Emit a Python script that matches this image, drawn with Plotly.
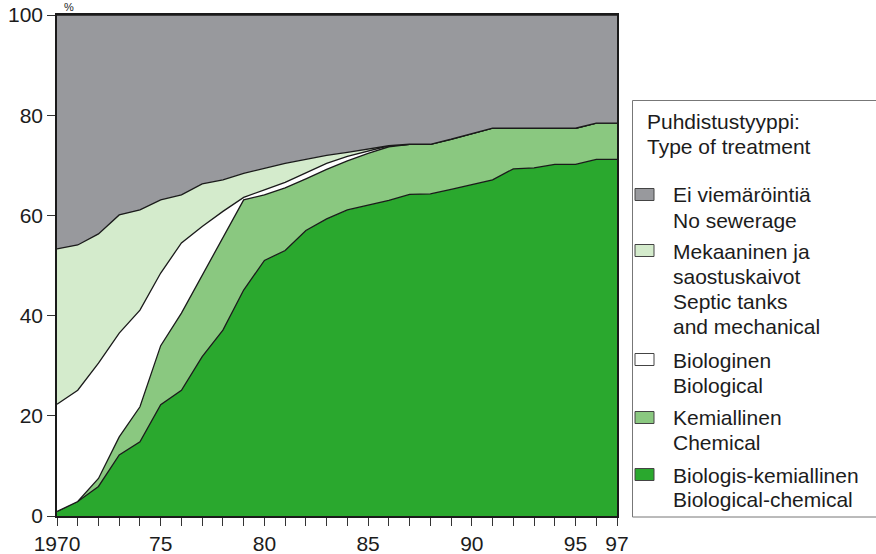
import plotly.graph_objects as go

years = list(range(1970, 1998))

# Shares of population (%) by type of wastewater treatment
biol_chem = [0.9, 2.9, 5.9, 12.2, 14.8, 22.2, 25.1, 31.8, 37.1, 45.1, 51.0, 53.0, 57.0, 59.3,
             61.1, 62.0, 63.0, 64.2, 64.3, 65.2, 66.2, 67.1, 69.3, 69.5, 70.2, 70.2, 71.2, 71.2]
chemical = [0.0, 0.0, 1.6, 3.6, 7.0, 11.8, 15.4, 16.2, 18.4, 18.0, 13.1, 12.5, 10.3, 9.9,
            9.8, 10.4, 10.7, 10.0, 9.9, 10.0, 10.1, 10.3, 8.1, 7.9, 7.2, 7.2, 7.2, 7.2]
biological = [21.4, 22.2, 23.0, 20.7, 19.3, 14.5, 14.0, 9.8, 5.3, 0.5, 1.0, 1.1, 1.2, 1.2,
              0.9, 0.5, 0.2, 0.0, 0.0, 0.0, 0.0, 0.0, 0.0, 0.0, 0.0, 0.0, 0.0, 0.0]
mechanical = [31.0, 29.0, 25.8, 23.6, 20.0, 14.6, 9.6, 8.5, 6.3, 4.8, 4.3, 3.8, 2.7, 1.6,
              0.8, 0.3, 0.0, 0.0, 0.0, 0.0, 0.0, 0.0, 0.0, 0.0, 0.0, 0.0, 0.0, 0.0]
no_sewerage = [46.7, 45.9, 43.7, 39.9, 38.9, 36.9, 35.9, 33.7, 32.9, 31.6, 30.6, 29.6, 28.8, 28.0,
               27.4, 26.8, 26.1, 25.8, 25.8, 24.8, 23.7, 22.6, 22.6, 22.6, 22.6, 22.6, 21.6, 21.6]

series_names = ["Biologis-kemiallinen / Biological-chemical", "Kemiallinen / Chemical",
                "Biologinen / Biological", "Mekaaninen ja saostuskaivot / Septic tanks and mechanical",
                "Ei viemäröintiä / No sewerage"]
series_values = [biol_chem, chemical, biological, mechanical, no_sewerage]
colors = ["rgb(42,168,46)", "rgb(138,200,128)", "rgb(255,255,255)", "rgb(212,235,204)", "rgb(152,153,157)"]

x_tickvals = [1970, 1975, 1980, 1985, 1990, 1995, 1997]
x_ticktext = ["1970", "75", "80", "85", "90", "95", "97"]

legend_title = ["Puhdistustyyppi:", "Type of treatment"]
legend_items = [
    (["Ei viemäröintiä", "No sewerage"], colors[4]),
    (["Mekaaninen ja", "saostuskaivot", "Septic tanks", "and mechanical"], colors[3]),
    (["Biologinen", "Biological"], colors[2]),
    (["Kemiallinen", "Chemical"], colors[1]),
    (["Biologis-kemiallinen", "Biological-chemical"], colors[0]),
]

FONT = "Arial, Liberation Sans, sans-serif"
TXT = "#1c1c1c"

fig = go.Figure()
for name, vals, col in zip(series_names, series_values, colors):
    fig.add_trace(go.Scatter(
        x=years, y=vals, name=name, stackgroup="one", mode="lines",
        line=dict(color="#1a1a1a", width=1.3), fillcolor=col, showlegend=False,
        hoverinfo="x+y+name"))

# plot area in pixels: x 57..617, y 15..516
L, R, T, B = 57, 617, 15, 516
def px_x(p):
    return (p - L) / (R - L)
def px_y(p):
    return (B - p) / (B - T)

shapes = []
annotations = []

# legend box
shapes.append(dict(type="rect", xref="paper", yref="paper",
                   x0=px_x(632.5), x1=px_x(890), y0=px_y(517), y1=px_y(100.5),
                   line=dict(color="#777", width=1), fillcolor="white", layer="below"))

def add_text(text, x, baseline):
    annotations.append(dict(text=text, xref="paper", yref="paper", x=px_x(x), y=px_y(baseline - 7),
                            xanchor="left", yanchor="middle", showarrow=False,
                            font=dict(family=FONT, size=21, color=TXT)))

add_text(legend_title[0], 645, 128)
add_text(legend_title[1], 645, 153)

baselines = [[202, 227], [258, 283, 308, 333], [367, 392], [425, 449], [482, 506]]
for (lines, col), bls in zip(legend_items, baselines):
    cy = bls[0] - 7.5
    shapes.append(dict(type="rect", xref="paper", yref="paper",
                       x0=px_x(635), x1=px_x(654), y0=px_y(cy + 6), y1=px_y(cy - 6),
                       line=dict(color="#444", width=1), fillcolor=col))
    for t, bl in zip(lines, bls):
        add_text(t, 671, bl)

annotations.append(dict(text="%", xref="paper", yref="paper", x=px_x(69), y=px_y(0),
                        xanchor="center", yanchor="top", showarrow=False, borderpad=0,
                        font=dict(family=FONT, size=11, color=TXT)))

fig.update_layout(
    width=876, height=554,
    margin=dict(l=L, r=876 - R, t=T, b=554 - B, autoexpand=False),
    paper_bgcolor="white", plot_bgcolor="white",
    showlegend=False,
    font=dict(family=FONT, size=21, color=TXT),
    shapes=shapes, annotations=annotations,
    xaxis=dict(range=[1970, 1997], tickvals=x_tickvals, ticktext=x_ticktext, automargin=False,
               ticks="outside", ticklen=8, tickcolor="#333", tickwidth=1,
               minor=dict(dtick=1, tick0=1970, ticks="outside", ticklen=8, tickcolor="#333", tickwidth=1),
               showgrid=False, zeroline=False, showline=True, linecolor="#1a1a1a", linewidth=1.5,
               mirror=True, tickfont=dict(size=21, family=FONT, color=TXT)),
    yaxis=dict(range=[0, 100], tickvals=[0, 20, 40, 60, 80, 100], automargin=False,
               ticks="outside", ticklen=8, tickcolor="#333", tickwidth=1,
               showgrid=False, zeroline=False, showline=True, linecolor="#1a1a1a", linewidth=1.5,
               mirror=True, tickfont=dict(size=21, family=FONT, color=TXT)),
)

fig.write_html("out.html", config={"displayModeBar": False},
               post_script="document.body.style.margin='0';document.body.style.overflow='hidden';")
